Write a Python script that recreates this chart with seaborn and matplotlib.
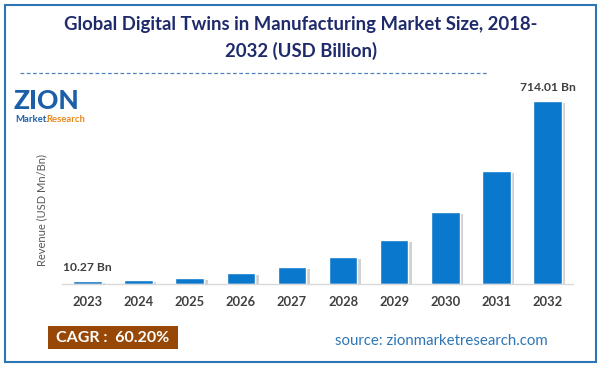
import matplotlib
matplotlib.use("Agg")
import matplotlib.pyplot as plt
import matplotlib.patheffects as pe
from matplotlib.patches import Rectangle
import seaborn as sns
import pandas as pd

years = ["2023", "2024", "2025", "2026", "2027", "2028", "2029", "2030", "2031", "2032"]
revenue = [10.27, 15.6, 24.6, 41.7, 67.5, 106.5, 171.7, 281.0, 441.0, 714.01]
labels_shown = {"2023": "10.27 Bn", "2032": "714.01 Bn"}

title = "Global Digital Twins in Manufacturing Market Size, 2018-\n2032 (USD Billion)"
ylabel = "Revenue (USD Mn/Bn)"
cagr = "CAGR :  60.20%"
source = "source: zionmarketresearch.com"

sns.set_theme(style="white")
plt.rcParams["font.family"] = ["Lato", "DejaVu Sans"]

W, H = 602, 367
fig = plt.figure(figsize=(W / 100, H / 100), dpi=100)
fig.patch.set_facecolor("white")

def fx(px):
    return px / W

def fy(py):
    return 1 - py / H

# border
fig.add_artist(Rectangle((fx(5), fy(362)), fx(591), 357 / H, transform=fig.transFigure,
                         fill=False, edgecolor="#2E75B6", linewidth=1.5))

# title
fig.text(0.5, fy(38), title, ha="center", va="center", fontsize=13.3, fontweight="bold",
         color="#1F2A6B", linespacing=1.55)

# dashed line
fig.add_artist(plt.Line2D([fx(20), fx(487)], [fy(73), fy(73)], transform=fig.transFigure,
                          color="#4F81BD", linestyle=(0, (3, 2)), linewidth=0.9))

# axes
ax = fig.add_axes([fx(62), fy(284), fx(573 - 62), (284 - 79) / H])
df = pd.DataFrame({"year": years, "revenue": revenue})
sns.barplot(data=df, x="year", y="revenue", color="#0A78CC", saturation=1, width=0.56, ax=ax)
for p in ax.patches:
    p.set_path_effects([pe.SimplePatchShadow(offset=(2.5, -1.5), shadow_rgbFace="#8C8C8C", alpha=0.4),
                        pe.Normal()])
ax.set_ylim(0, 800)
ax.set_xlim(-0.5, len(years) - 0.5)
ax.set_xlabel("")
ax.set_ylabel("")
ax.set_yticks([])
for s in ["top", "right", "left"]:
    ax.spines[s].set_visible(False)
ax.spines["bottom"].set_color("#D9D9D9")
ax.spines["bottom"].set_linewidth(1)
ax.tick_params(axis="x", length=0, pad=9, labelsize=9.3, labelcolor="#404040")
for t in ax.get_xticklabels():
    t.set_fontweight("bold")

for i, (yr, v) in enumerate(zip(years, revenue)):
    if yr in labels_shown:
        ax.annotate(labels_shown[yr], (i, v), xytext=(0, 6), textcoords="offset points",
                    ha="center", va="bottom", fontsize=8.7, fontweight="bold", color="#404040")

fig.text(fx(42), fy(210), ylabel, rotation=90, ha="center", va="center", fontsize=8,
         color="#595959")

# logo (text approximation)
fig.text(fx(13), fy(101), "ZION", ha="left", va="center", fontsize=19, fontweight="black",
         color="#1B5FA8")
fig.text(fx(15), fy(119), "Market.", ha="left", va="center", fontsize=6.8, fontweight="bold",
         color="#1B5FA8")
fig.text(fx(46), fy(119), "Research", ha="left", va="center", fontsize=6.8, fontweight="bold",
         color="#E98A1E")

# CAGR box
fig.add_artist(Rectangle((fx(48), fy(349)), fx(130), 23 / H, transform=fig.transFigure,
                         facecolor="#974806", edgecolor="none"))
fig.text(fx(113), fy(337.5), cagr, ha="center", va="center", fontsize=11.5, fontweight="bold",
         color="white")

fig.text(fx(441), fy(341), source, ha="center", va="center", fontsize=10.8, color="#2E75B6")

fig.savefig("out.png", dpi=100)
